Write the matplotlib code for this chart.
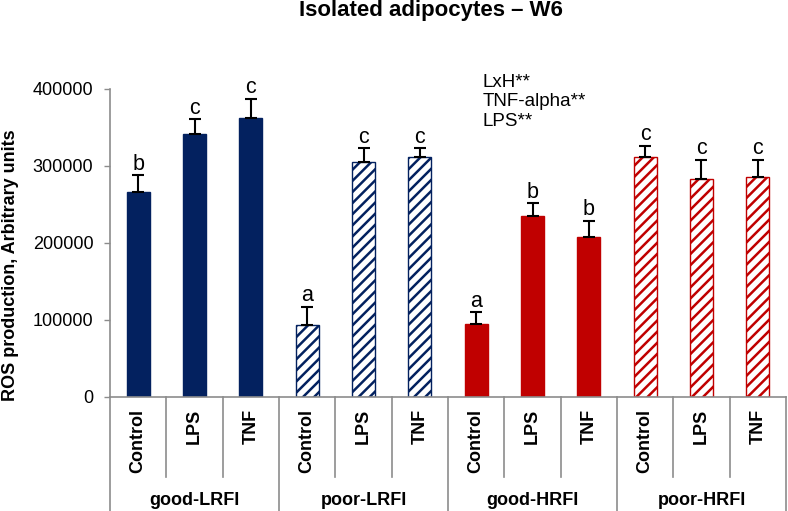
import matplotlib
matplotlib.use("Agg")
import matplotlib.pyplot as plt
from matplotlib.transforms import blended_transform_factory

plt.rcParams['font.family'] = ['Liberation Sans', 'DejaVu Sans']
plt.rcParams['hatch.linewidth'] = 1.8

groups = ["good-LRFI", "poor-LRFI", "good-HRFI", "poor-HRFI"]
treatments = ["Control", "LPS", "TNF"]
values = [265800, 341000, 362800,
          93200, 304800, 311300,
          94500, 235400, 208100,
          311300, 283500, 285700]
errors = [22200, 19700, 24200,
          23800, 18200, 11700,
          15200, 16100, 20800,
          14700, 24300, 22100]
letters = ["b", "c", "c", "a", "c", "c", "a", "b", "b", "c", "c", "c"]
group_colors = ["#03215F", "#03215F", "#C00000", "#C00000"]
group_hatched = [False, True, False, True]
yticks = [0, 100000, 200000, 300000, 400000]
stats_text = ["LxH**", "TNF-alpha**", "LPS**"]

W, H = 788, 511
fig = plt.figure(figsize=(W / 100, H / 100), dpi=100)
ax_left, ax_right = 110 / W, 786 / W
ax_bottom, ax_top = 1 - 396.7 / H, 1 - 89 / H
ax = fig.add_axes([ax_left, ax_bottom, ax_right - ax_left, ax_top - ax_bottom])

n_t = len(treatments)
xs = list(range(len(values)))
for i, v in enumerate(values):
    g = i // n_t
    col = group_colors[g]
    if group_hatched[g]:
        ax.bar(xs[i], v, width=0.41, facecolor="white", edgecolor=col,
               hatch="///", linewidth=1.0, zorder=2)
    else:
        ax.bar(xs[i], v, width=0.41, facecolor=col, edgecolor=col,
               linewidth=1.0, zorder=2)
    ax.errorbar(xs[i], v, yerr=[[0], [errors[i]]], fmt="none",
                ecolor="black", elinewidth=1.5, capsize=4, capthick=1.5, zorder=3)
    ax.annotate(letters[i], (xs[i], v + errors[i]), xytext=(0, 4),
                textcoords="offset points", ha="center", va="baseline",
                fontsize=15.5)

ax.set_xlim(-0.5, len(values) - 0.5)
ax.set_ylim(0, 400000)
ax.set_yticks(yticks)
ax.set_yticklabels([str(t) for t in yticks], fontsize=13)
ax.tick_params(axis="y", direction="out", length=4, width=1, color="#8c8c8c", pad=8)
ax.tick_params(axis="x", bottom=False, labelbottom=False)
for s in ["top", "right"]:
    ax.spines[s].set_visible(False)
for s in ["left", "bottom"]:
    ax.spines[s].set_color("#8c8c8c")
    ax.spines[s].set_linewidth(1.2)

fig.text(11 / W, 1 - 265 / H, "ROS production, Arbitrary units", rotation=90,
         ha="center", va="center", fontsize=13, fontweight="bold")

trans = blended_transform_factory(ax.transData, ax.transAxes)
span = 396.7 - 89
inner_bottom = (396.7 - 477) / span
outer_bottom = (396.7 - 512) / span
for k in range(len(values) + 1):
    xb = k - 0.5
    yb = outer_bottom if k % n_t == 0 else inner_bottom
    ax.plot([xb, xb], [0, yb], transform=trans, color="#8c8c8c",
            linewidth=1.2, clip_on=False)

lab_top = (396.7 - 409) / span
for i in xs:
    ax.text(i, lab_top, treatments[i % n_t], transform=trans, rotation=90,
            ha="center", va="top", fontsize=13, fontweight="bold")
grp_y = (396.7 - 500) / span
for g, name in enumerate(groups):
    ax.text(g * n_t + 1, grp_y, name, transform=trans, ha="center",
            va="center", fontsize=13, fontweight="bold")

fig.text(431 / W, 1 - 16 / H, "Isolated adipocytes \u2013 W6", ha="center",
         va="baseline", fontsize=16, fontweight="bold")
fig.text(483 / W, 1 - 102 / H, "\n".join(stats_text), fontsize=13.5,
         ha="left", va="center", linespacing=1.2)

fig.savefig("out.png", dpi=100)
